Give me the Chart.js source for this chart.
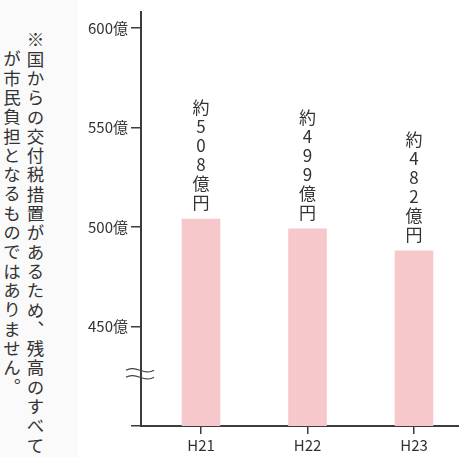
<!DOCTYPE html>
<html lang="ja">
<head>
<meta charset="utf-8">
<script src="https://cdn.jsdelivr.net/npm/chart.js@4"></script>
<style>
    body { margin: 0; background: #fff; }
    #wrap { position: relative; width: 459px; height: 457px; overflow: hidden; }
    #side { position: absolute; left: 0; top: 0; width: 78px; height: 457px; background: #fafafa; }
    #note {
        position: absolute; left: 0; top: 31px; width: 47px; height: 430px;
        writing-mode: vertical-rl; white-space: nowrap;
        font-family: "Noto Sans CJK JP", sans-serif; font-size: 17.5px;
        letter-spacing: 1.8px; line-height: 23.5px; color: #333;
        padding-top: 19.3px; text-indent: -19.3px;
    }
    #chart { position: absolute; left: 0; top: 0; }
</style>
</head>
<body>
<div id="wrap">
    <div id="side"></div>
    <div id="note">※国からの交付税措置があるため、残高のすべて<br>が市民負担となるものではありません。</div>
    <canvas id="chart" width="459" height="457"></canvas>
</div>
<script>
const categories = ['H21', 'H22', 'H23'];
const barValues = [504, 499, 488];
const valueLabels = ['約508億円', '約499億円', '約482億円'];
const yTicks = [400, 450, 500, 550, 600];

const FONT = '"Noto Sans CJK JP", sans-serif';
const AXIS_COLOR = '#3c3c3c';

// Werte senkrecht über den Balken schreiben, Zeichen für Zeichen
const valueLabelPlugin = {
    id: 'valueLabels',
    afterDatasetsDraw(chart) {
        const ctx = chart.ctx;
        const meta = chart.getDatasetMeta(0);
        ctx.save();
        ctx.font = '17px ' + FONT;
        ctx.fillStyle = '#333';
        ctx.textAlign = 'center';
        ctx.textBaseline = 'middle';
        meta.data.forEach((bar, i) => {
            const chars = Array.from(valueLabels[i]);
            for (let j = 0; j < chars.length; j++) {
                const y = bar.y - 16 - (chars.length - 1 - j) * 19;
                ctx.fillText(chars[j], bar.x, y);
            }
        });
        ctx.restore();
    }
};

// Wellenlinie für die unterbrochene Achse
const axisBreakPlugin = {
    id: 'axisBreak',
    afterDraw(chart) {
        const ctx = chart.ctx;
        const x = chart.chartArea.left;
        const y0 = chart.scales.y.getPixelForValue(428);
        ctx.save();
        ctx.strokeStyle = '#444';
        ctx.lineWidth = 1.2;
        for (const y of [y0, y0 + 7]) {
            const left = x - 15;
            const w = 28;
            ctx.beginPath();
            ctx.moveTo(left, y);
            ctx.bezierCurveTo(left + w / 3, y - 6, left + 2 * w / 3, y + 6, left + w, y);
            ctx.stroke();
        }
        ctx.restore();
    }
};

const ctxChart = document.getElementById('chart').getContext('2d');
new Chart(ctxChart, {
    type: 'bar',
    data: {
        datasets: [{
            data: categories.map((c, i) => ({ x: i + 1, y: barValues[i] })),
            backgroundColor: '#f7c8cb',
            borderWidth: 0,
            barThickness: 38
        }]
    },
    options: {
        responsive: false,
        animation: false,
        layout: { padding: { left: 81, top: 8, right: 0, bottom: 0 } },
        plugins: {
            legend: { display: false },
            tooltip: { enabled: false }
        },
        scales: {
            x: {
                type: 'linear',
                offset: false,
                min: 0.4366,
                max: 3.4225,
                afterBuildTicks: s => { s.ticks = categories.map((c, i) => ({ value: i + 1 })); },
                afterFit: s => { s.height = 31; },
                border: { color: AXIS_COLOR, width: 2 },
                grid: { offset: false, drawOnChartArea: false, tickLength: 8, color: AXIS_COLOR, lineWidth: 1.5 },
                ticks: {
                    autoSkip: false,
                    maxRotation: 0,
                    padding: 2,
                    color: '#333',
                    font: { size: 15, family: FONT },
                    callback: v => categories[v - 1]
                }
            },
            y: {
                min: 400,
                max: 608,
                afterBuildTicks: s => { s.ticks = yTicks.map(v => ({ value: v })); },
                afterFit: s => { s.width = 60; },
                border: { color: AXIS_COLOR, width: 2 },
                grid: { drawOnChartArea: false, tickLength: 10, color: AXIS_COLOR, lineWidth: 1.5 },
                ticks: {
                    padding: 3,
                    color: '#333',
                    font: { size: 15, family: FONT },
                    callback: v => (v === 400 ? '' : v + '億')
                }
            }
        }
    },
    plugins: [valueLabelPlugin, axisBreakPlugin]
});
</script>
</body>
</html>
